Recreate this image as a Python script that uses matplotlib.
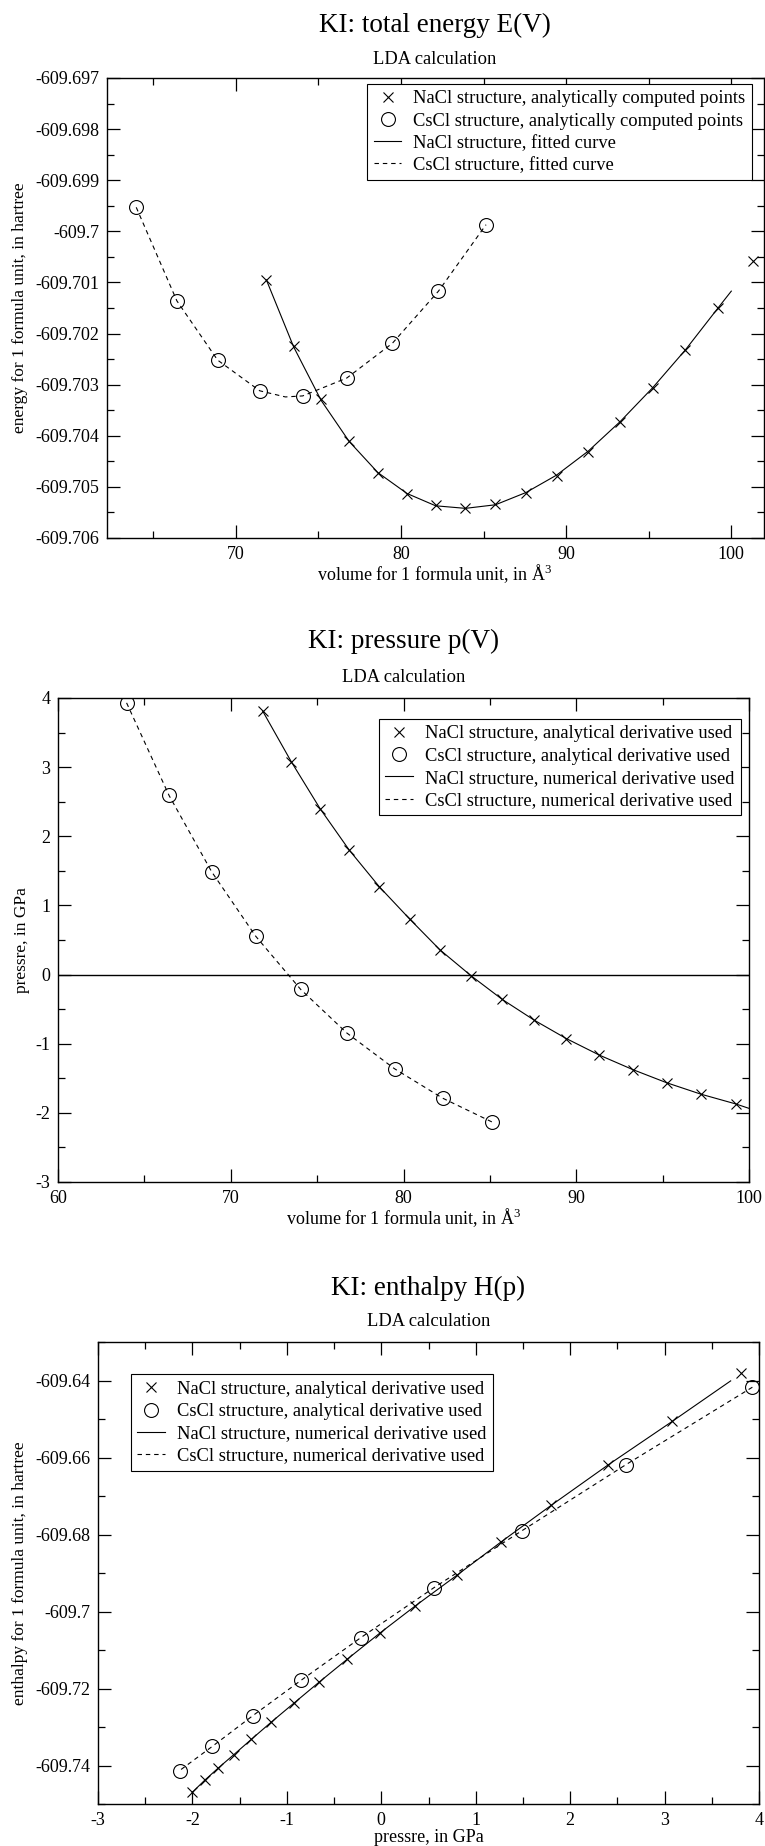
import matplotlib
matplotlib.use("Agg")
import matplotlib.pyplot as plt
from matplotlib.ticker import MultipleLocator, FormatStrFormatter

plt.rcParams['font.family'] = ['Liberation Serif', 'DejaVu Serif']
plt.rcParams['mathtext.fontset'] = 'custom'
plt.rcParams['mathtext.rm'] = 'Liberation Serif'
plt.rcParams['mathtext.it'] = 'Liberation Serif:italic'
plt.rcParams['axes.unicode_minus'] = False

# NaCl structure points: volume (A^3), energy (hartree), pressure (GPa), enthalpy (hartree)
nacl_vol = [71.85, 73.50, 75.17, 76.86, 78.60, 80.37, 82.10, 83.90, 85.72,
            87.57, 89.42, 91.34, 93.28, 95.24, 97.22, 99.22, 101.33]
nacl_energy = [-609.70095, -609.70224, -609.70329, -609.70411, -609.70472,
               -609.70513, -609.70536, -609.70541, -609.70534, -609.70511,
               -609.70478, -609.70431, -609.70373, -609.70307, -609.70233,
               -609.70150, -609.70058]
nacl_press = [3.81, 3.08, 2.40, 1.80, 1.27, 0.80, 0.36, -0.015, -0.36, -0.66,
              -0.925, -1.165, -1.375, -1.565, -1.73, -1.87, -2.0]
nacl_enth = [-609.63806, -609.65064, -609.66196, -609.67241, -609.68190,
             -609.69060, -609.69855, -609.70561, -609.71238, -609.71838,
             -609.72380, -609.72873, -609.73318, -609.73725, -609.74073,
             -609.74383, -609.74693]

# CsCl structure points
cscl_vol = [63.97, 66.43, 68.90, 71.45, 74.05, 76.72, 79.48, 82.27, 85.15]
cscl_energy = [-609.69953, -609.70136, -609.70252, -609.70312, -609.70322,
               -609.70287, -609.70219, -609.70117, -609.69987]
cscl_press = [3.93, 2.59, 1.485, 0.553, -0.215, -0.845, -1.362, -1.788, -2.135]
cscl_enth = [-609.64174, -609.66187, -609.67909, -609.69389, -609.70676,
             -609.71779, -609.72708, -609.73501, -609.74130]

# curves
nacl_fit_vol = [71.85, 73.50, 75.17, 76.86, 78.60, 80.37, 82.10, 83.90, 85.72,
                87.57, 89.42, 91.34, 93.28, 95.24, 97.22, 99.22, 100.0]
nacl_fit_energy = [-609.70095, -609.70226, -609.70331, -609.70411, -609.70472,
                   -609.70513, -609.70537, -609.70542, -609.70535, -609.70511,
                   -609.70477, -609.70430, -609.70372, -609.70306, -609.70232,
                   -609.70149, -609.70117]
cscl_fit_vol = [63.97, 66.43, 68.90, 71.45, 73.0, 74.05, 76.72, 79.48, 82.27, 85.15]
cscl_fit_energy = [-609.69953, -609.70136, -609.70252, -609.70312, -609.70324,
                   -609.70322, -609.70287, -609.70219, -609.70117, -609.69987]

nacl_num_vol = nacl_fit_vol
nacl_num_press = [3.81, 3.08, 2.40, 1.80, 1.27, 0.80, 0.36, -0.015, -0.36, -0.66,
                  -0.925, -1.165, -1.375, -1.565, -1.73, -1.87, -1.935]
cscl_num_vol = cscl_vol
cscl_num_press = cscl_press

nacl_num_p = [-2.0, -1.87, -1.73, -1.565, -1.375, -1.165, -0.925, -0.66, -0.36,
              -0.015, 0.36, 0.80, 1.27, 1.80, 2.40, 3.08, 3.70]
nacl_num_h = [-609.74693, -609.74383, -609.74073, -609.73725, -609.73318,
              -609.72873, -609.72380, -609.71838, -609.71238, -609.70561,
              -609.69855, -609.69060, -609.68190, -609.67241, -609.66196,
              -609.65064, -609.64010]
cscl_num_p = cscl_press
cscl_num_h = cscl_enth

labels_e = ["NaCl structure, analytically computed points",
            "CsCl structure, analytically computed points",
            "NaCl structure, fitted curve",
            "CsCl structure, fitted curve"]
labels_d = ["NaCl structure, analytical derivative used",
            "CsCl structure, analytical derivative used",
            "NaCl structure, numerical derivative used",
            "CsCl structure, numerical derivative used"]

W, H = 765, 1846
fig = plt.figure(figsize=(W / 100, H / 100), dpi=100)


def rect(l, t, r, b):
    return [l / W, 1 - b / H, (r - l) / W, (b - t) / H]


def style(ax, xmaj, xmin, ymaj, ymin):
    ax.xaxis.set_major_locator(MultipleLocator(xmaj))
    ax.xaxis.set_minor_locator(MultipleLocator(xmin))
    ax.yaxis.set_major_locator(MultipleLocator(ymaj))
    ax.yaxis.set_minor_locator(MultipleLocator(ymin))
    ax.xaxis.set_major_formatter(FormatStrFormatter('%g'))
    ax.yaxis.set_major_formatter(FormatStrFormatter('%g'))
    ax.tick_params(which='both', direction='in', top=True, right=True,
                   labelsize=13, pad=5.5, width=0.9)
    ax.tick_params(which='major', length=9.4)
    ax.tick_params(which='minor', length=5)
    for s in ax.spines.values():
        s.set_linewidth(1.0)


def draw(ax, x1, y1, x2, y2, lx1, ly1, lx2, ly2, labels, loc, anchor):
    h1, = ax.plot(x1, y1, ls='none', marker='x', ms=7.5, mew=0.8, color='k')
    h2, = ax.plot(x2, y2, ls='none', marker='o', ms=10, mew=0.8,
                  mfc='none', mec='k')
    h3, = ax.plot(lx1, ly1, color='k', lw=0.8)
    h4, = ax.plot(lx2, ly2, color='k', lw=0.8, dashes=(4, 3.5))
    leg = ax.legend([h1, h2, h3, h4], labels, loc=loc, bbox_to_anchor=anchor,
                    borderaxespad=0, fancybox=False, edgecolor='k',
                    framealpha=1, fontsize=13.3, handlelength=1.5,
                    handletextpad=0.65, borderpad=0.35, labelspacing=0.28)
    leg.get_frame().set_linewidth(0.8)


def titles(cx, ty, sy, title):
    fig.text(cx / W, 1 - ty / H, title, ha='center', va='center', fontsize=19.5)
    fig.text(cx / W, 1 - sy / H, "LDA calculation", ha='center', va='center',
             fontsize=13.3)


# ---- total energy
ax1 = fig.add_axes(rect(107, 78, 763.5, 538))
draw(ax1, nacl_vol, nacl_energy, cscl_vol, cscl_energy,
     nacl_fit_vol, nacl_fit_energy, cscl_fit_vol, cscl_fit_energy,
     labels_e, 'upper right', (0.9825, 0.987))
ax1.set_xlim(62.2, 101.95)
ax1.set_ylim(-609.706, -609.697)
style(ax1, 10, 5, 0.001, 0.0005)
titles(435, 25, 59, "KI: total energy E(V)")
fig.text(435 / W, 1 - 574 / H, "volume for 1 formula unit, in Å$^3$",
         ha='center', va='center', fontsize=13)
fig.text(20 / W, 1 - 308 / H, "energy for 1 formula unit, in hartree",
         rotation=90, ha='center', va='center', fontsize=12.5)

# ---- pressure
ax2 = fig.add_axes(rect(58, 698, 749, 1182))
ax2.axhline(0, color='k', lw=1.0)
draw(ax2, nacl_vol, nacl_press, cscl_vol, cscl_press,
     nacl_num_vol, nacl_num_press, cscl_num_vol, cscl_num_press,
     labels_d, 'upper right', (0.988, 0.9566))
ax2.set_xlim(60, 100)
ax2.set_ylim(-3, 4)
style(ax2, 10, 5, 1, 0.5)
titles(403.5, 641, 677, "KI: pressure p(V)")
fig.text(403.5 / W, 1 - 1218 / H, "volume for 1 formula unit, in Å$^3$",
         ha='center', va='center', fontsize=13)
fig.text(22 / W, 1 - 940 / H, "pressre, in GPa",
         rotation=90, ha='center', va='center', fontsize=12.5)

# ---- enthalpy
ax3 = fig.add_axes(rect(98, 1342, 759, 1804))
draw(ax3, nacl_press, nacl_enth, cscl_press, cscl_enth,
     nacl_num_p, nacl_num_h, cscl_num_p, cscl_num_h,
     labels_d, 'upper left', (0.0499, 0.9297))
ax3.set_xlim(-3, 4)
ax3.set_ylim(-609.75, -609.63)
style(ax3, 1, 0.5, 0.02, 0.01)
titles(428.5, 1288, 1322, "KI: enthalpy H(p)")
fig.text(428.5 / W, 1 - 1837 / H, "pressre, in GPa",
         ha='center', va='center', fontsize=13)
fig.text(20 / W, 1 - 1573 / H, "enthalpy for 1 formula unit, in hartree",
         rotation=90, ha='center', va='center', fontsize=12.5)

fig.savefig("out.png", dpi=100)
